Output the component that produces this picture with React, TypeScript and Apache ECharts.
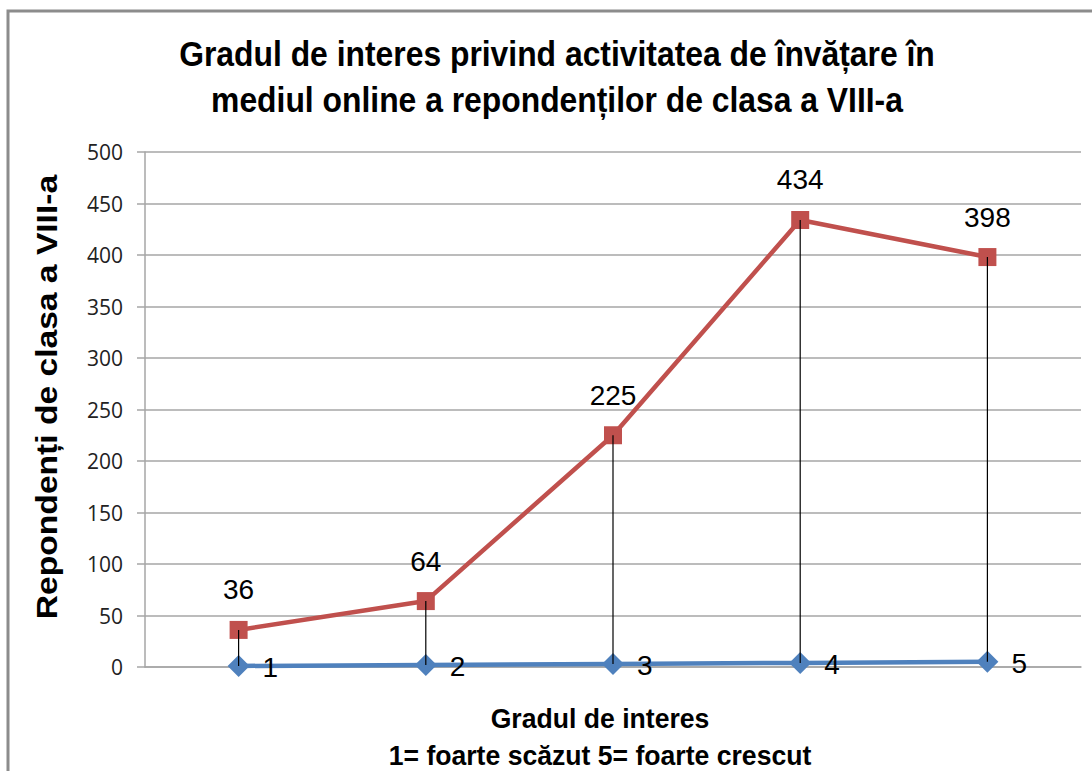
import React, { useEffect, useRef } from "react";
import * as echarts from "echarts";

const categories = ["1", "2", "3", "4", "5"];
const levelValues = [1, 2, 3, 4, 5];
const respondents = [36, 64, 225, 434, 398];
const yMin = 0;
const yMax = 500;
const yInterval = 50;

const titleText =
  "Gradul de interes privind activitatea de învățare în\nmediul online a repondenților de clasa a VIII-a";
const yAxisTitle = "Repondenți de clasa a VIII-a";
const xAxisTitle = "Gradul de interes\n1= foarte scăzut 5= foarte crescut";

export default function App() {
  const ref = useRef<HTMLDivElement>(null);
  useEffect(() => {
    if (!ref.current) return;
    const chart = echarts.init(ref.current, undefined, { renderer: "svg" });
    const highLow = categories.map((_, i) => [i, respondents[i], levelValues[i]]);
    chart.setOption({
      animation: false,
      backgroundColor: "#ffffff",
      grid: { left: 145, right: 11, top: 152, bottom: 104, containLabel: false },
      xAxis: {
        type: "category",
        data: categories,
        boundaryGap: true,
        axisLine: { show: true, lineStyle: { color: "#A6A6A6", width: 1.5 } },
        axisTick: { show: false },
        axisLabel: { show: false },
        splitLine: { show: false },
      },
      yAxis: {
        type: "value",
        min: yMin,
        max: yMax,
        interval: yInterval,
        axisLine: { show: true, lineStyle: { color: "#A6A6A6", width: 1.5 } },
        axisTick: { show: true, inside: false, length: 8, lineStyle: { color: "#A6A6A6", width: 1.5 } },
        axisLabel: {
          margin: 22,
          color: "#222",
          fontSize: 21,
          fontFamily: "Open Sans, DejaVu Sans, sans-serif",
        },
        splitLine: { show: true, lineStyle: { color: "#A6A6A6", width: 1.5 } },
      },
      graphic: [
        {
          type: "rect",
          shape: { x: 8, y: 11, width: 1200, height: 900 },
          style: { fill: "none", stroke: "#8C8C8C", lineWidth: 3 },
          silent: true,
          z: 100,
        },
        {
          type: "text",
          x: 557,
          y: 31,
          scaleX: 0.91,
          style: {
            text: titleText,
            font: "bold 35px 'Liberation Sans', Arial, sans-serif",
            fill: "#000",
            align: "center",
            verticalAlign: "top",
            lineHeight: 46,
          },
        },
        {
          type: "text",
          x: 47,
          y: 397,
          rotation: Math.PI / 2,
          scaleX: 1.12,
          style: {
            text: yAxisTitle,
            font: "bold 30px 'Liberation Sans', Arial, sans-serif",
            fill: "#000",
            align: "center",
            verticalAlign: "middle",
          },
        },
        {
          type: "text",
          x: 600,
          y: 700,
          scaleX: 0.95,
          style: {
            text: xAxisTitle,
            font: "bold 28px 'Liberation Sans', Arial, sans-serif",
            fill: "#000",
            align: "center",
            verticalAlign: "top",
            lineHeight: 37,
          },
        },
      ],
      series: [
        {
          name: "Gradul de interes",
          type: "line",
          data: levelValues,
          symbol: "diamond",
          symbolSize: 22,
          lineStyle: { color: "#4F81BD", width: 4.5 },
          itemStyle: { color: "#4F81BD" },
          label: {
            show: true,
            position: "right",
            distance: 13,
            offset: [0, 2],
            color: "#000",
            fontSize: 28,
            fontFamily: "'Liberation Sans', Arial, sans-serif",
          },
          z: 2,
        },
        {
          name: "Repondenți",
          type: "line",
          data: respondents,
          symbol: "rect",
          symbolSize: 18,
          lineStyle: { color: "#C0504D", width: 4.5 },
          itemStyle: { color: "#C0504D" },
          label: {
            show: true,
            position: "top",
            distance: 17,
            color: "#000",
            fontSize: 28,
            fontFamily: "'Liberation Sans', Arial, sans-serif",
          },
          z: 3,
        },
        {
          name: "high-low",
          type: "custom",
          data: highLow,
          encode: { x: 0, y: [1, 2] },
          renderItem: (params: any, api: any) => {
            const top = api.coord([api.value(0), api.value(1)]);
            const bottom = api.coord([api.value(0), api.value(2)]);
            return {
              type: "line",
              shape: { x1: top[0], y1: top[1], x2: bottom[0], y2: bottom[1] },
              style: { stroke: "#000", lineWidth: 1.2 },
            };
          },
          z: 10,
          silent: true,
        },
      ],
    });
    return () => chart.dispose();
  }, []);
  return (
    <div
      ref={ref}
      style={{ position: "fixed", left: 0, top: 0, width: 1092, height: 771, background: "#fff" }}
    />
  );
}
